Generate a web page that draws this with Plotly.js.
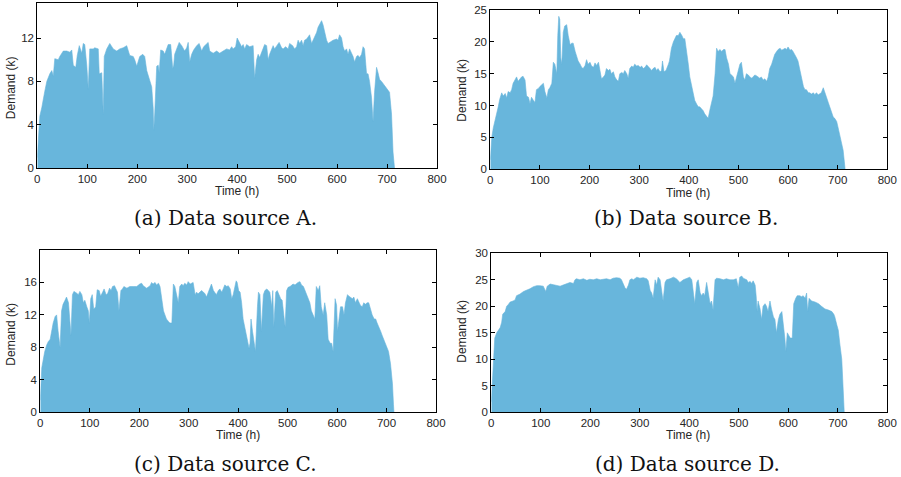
<!DOCTYPE html>
<html>
<head>
<meta charset="utf-8">
<script src="https://cdn.plot.ly/plotly-3.0.1.min.js"></script>
<style>html,body{margin:0;padding:0;background:#fff;}#chart{width:901px;height:477px;}</style>
</head>
<body>
<div id="chart"></div>
<script>
// ---- Data source A ----
const hoursA = [0,2,5,9,12,15,19,22,25,29,32,35,42,45,52,59,65,69,72,77,80,84,89,92,95,99,102,105,112,115,122,124,129,132,134,139,145,152,159,165,172,179,185,192,195,199,202,205,211,215,219,222,225,229,232,233,235,239,242,244,247,252,255,259,262,267,271,273,275,279,284,289,292,295,299,302,305,309,313,319,324,329,333,339,342,345,352,359,365,372,379,385,389,392,397,400,404,409,412,415,419,425,432,435,439,442,445,449,452,455,459,462,465,469,472,475,479,484,489,492,497,502,505,511,515,519,522,525,529,532,535,539,542,545,549,552,555,559,562,565,569,572,575,579,582,585,592,599,602,605,609,612,615,619,622,625,629,632,635,639,642,645,649,652,655,659,662,665,669,672,675,679,682,685,689,692,695,699,702,705,709,712,715];
const demandA = [1,3,4.8,5.6,6.5,7.1,8,8.4,8.7,9.0,8.5,10.1,10,10.3,10.8,10.8,10.7,10.9,9.5,9.3,10.4,11.3,10.6,11.5,11.4,9.5,7.3,11.0,11.0,11.1,11.0,8.7,8.8,5.0,10.3,11.0,11.5,11.0,10.8,11.0,11.1,11.3,10.4,10.3,10.0,9.4,10.0,10.3,10.5,10.3,9.0,8.5,8.1,7.5,5.5,3.5,5,9.4,9.5,8.8,10.9,10.8,10.5,11.0,11.4,11.4,9.2,9.5,10.5,11.0,11.6,11.3,11.0,10.8,11.1,11.6,9.8,10.5,10.9,11.3,11.5,10.8,11.2,11.5,11.6,10.8,10.6,10.8,10.6,10.8,11.0,10.9,11.2,11.0,11.2,12.0,11.7,11.2,11.4,11.0,11.4,11.2,11.3,8.3,10.0,10.5,10.2,10.7,11.0,11.4,11.3,10.0,10.5,11.0,11.3,11.0,11.3,11.6,11.1,11.0,11.2,11.0,11.5,11.3,11.0,11.2,11.8,11.5,11.8,11.3,11.8,11.9,12.1,12.3,11.5,11.8,12.0,12.5,13.0,13.3,13.6,13.2,12.5,11.8,11.5,11.6,11.8,11.9,11.8,12.3,12.0,11.2,10.8,11.0,10.5,11.0,10.6,10.3,9.8,10.3,10.4,10.2,10.5,11.2,11.0,8.7,8.7,8.0,6.5,4.3,7.0,9.3,8.8,8.2,8.0,7.8,7.7,7.4,7.2,7.0,5.0,1.5,0];

// ---- Data source B ----
const hoursB = [0,3,6,9,13,16,19,23,26,30,33,36,40,43,46,50,53,56,60,63,66,70,73,77,80,83,87,90,93,97,100,103,107,110,114,117,120,124,127,130,134,136,138,140,142,144,147,150,154,157,161,164,167,171,174,177,181,184,187,191,194,197,201,204,208,211,214,218,221,224,228,231,234,238,241,244,248,251,255,258,261,265,268,271,275,278,281,285,288,291,295,298,302,305,308,312,315,318,322,325,328,332,335,338,342,345,347,350,354,359,361,363,365,369,372,375,379,382,386,389,392,396,399,402,406,409,412,416,419,422,426,429,432,436,439,443,446,449,453,456,459,463,466,470,473,476,480,483,486,490,493,496,500,503,506,510,513,516,520,523,527,530,533,536,540,543,546,550,553,557,560,563,567,570,573,577,580,584,587,590,594,597,600,604,607,610,614,617,620,624,627,631,634,637,641,644,647,651,654,657,661,664,667,671,674,678,681,684,688,691,694,698,701,704,708,711,713,715];
const demandB = [1.5,5,6.5,7.4,8.5,9.8,11.0,12.0,11.5,11.9,11.2,12.2,12.0,12.5,13.5,14.0,14.5,13.8,14.2,14.5,14.6,14.0,11.5,11.3,10.3,11.3,10.8,10.5,12.5,12.7,13.0,13.2,13.5,12.2,11.2,12.5,12.8,13.5,16.8,16.5,15.0,21.0,24.0,23.5,17.5,16.5,21.5,22.5,22.7,21.0,19.5,19.8,19.8,18.5,17.5,17.0,16.5,16.0,15.8,16.3,17.2,16.5,16.8,16.2,16.0,16.7,16.3,16.8,15.5,14.2,14.5,14.8,15.8,15.5,15.7,15.0,15.3,14.5,14.0,13.8,15.0,15.2,15.0,15.5,15.0,14.3,15.8,16.2,16.0,16.5,16.2,16.3,16.0,16.2,15.8,16.0,16.4,16.2,15.8,15.5,15.8,16.0,15.5,15.8,15.3,15.5,17.0,15.3,15.5,16.5,17.0,18.0,19.0,20.0,20.5,21.0,21.0,21.5,21.0,20.5,20.5,18.5,16.5,14.5,12.8,11.5,10.8,10.2,9.8,9.8,9.5,9.2,8.7,8.2,8.0,9.5,10.8,11.5,15.0,19.0,18.5,18.8,18.5,18.8,18.8,17.5,16.5,15.0,14.8,14.5,13.5,14.5,15.5,16.5,16.8,14.5,14.0,15.0,14.8,14.5,14.3,14.5,14.8,14.7,14.5,14.3,14.5,14.0,14.2,13.8,14.5,15.8,16.5,17.5,18.0,18.5,18.8,19.0,18.7,18.8,19.0,18.8,19.2,18.7,18.8,18.5,18.0,17.5,17.0,15.5,14.5,13.0,12.5,12.5,12.0,12.0,11.8,12.0,11.7,12.0,11.7,11.8,12.0,12.8,12.0,11.0,10.5,9.8,9.0,8.2,8.0,7.5,6.5,5.5,4.5,3.0,1.5,0];

// ---- Data source C ----
const hoursC = [0,3,6,9,13,16,20,23,26,30,33,36,40,43,46,50,53,57,60,62,65,68,73,77,80,84,87,90,94,97,99,102,105,108,112,115,119,122,126,129,133,136,140,143,146,150,153,156,159,163,166,169,175,181,188,195,201,205,208,215,222,225,228,232,235,239,242,245,249,252,255,259,262,266,269,272,276,279,282,286,289,292,296,299,303,306,309,313,316,319,323,326,330,333,336,340,343,346,350,353,356,360,363,367,370,373,377,380,384,387,390,394,396,398,401,404,407,410,414,417,419,422,424,426,429,432,435,439,441,444,447,451,454,458,461,464,468,470,472,476,479,482,486,489,493,495,498,501,505,508,511,515,518,521,525,528,532,535,538,542,545,548,552,555,558,562,565,568,572,575,579,582,586,589,592,596,599,601,605,607,611,614,617,621,624,627,631,634,637,641,644,647,651,654,657,661,664,668,671,675,678,681,685,688,691,694,698,701,704,708,712,714,715];
const demandC = [1.5,5.5,6.5,7.5,8.3,8.7,9.0,10.0,11.0,11.8,12.0,10.0,8.0,12.5,13.3,13.8,14.2,13.5,11.5,9.5,14.5,14.9,14.7,14.5,14.9,14.5,13.5,13.8,13.0,12.5,11.0,14.0,14.5,12.7,13.0,15.1,15.0,14.3,14.8,15.2,14.5,14.6,15.3,15.0,15.5,15.6,15.2,14.8,12.5,15.0,15.2,15.5,15.3,15.5,15.5,15.5,15.8,15.9,15.6,15.3,15.6,16.0,15.8,16.0,15.7,15.9,15.5,14.0,12.5,12.0,11.5,11.2,11.0,11.0,15.8,15.5,14.5,13.5,15.5,15.8,15.6,15.9,15.7,16.1,15.8,15.9,16.0,14.5,14.8,14.6,14.8,15.0,14.8,14.6,14.2,14.8,15.2,15.8,15.0,14.8,14.5,15.0,15.2,14.8,15.3,15.7,15.5,15.6,15.2,14.0,14.5,15.8,16.2,16.0,15.0,14.8,13.5,11.5,10.3,9.5,8.8,7.9,8.5,11.5,10.0,9.0,7.5,13.0,14.8,14.5,10.0,14.5,15.0,15.2,15.0,14.8,13.0,15.0,10.5,14.8,15.0,14.5,14.0,13.8,12.0,10.5,15.0,15.4,15.5,15.6,15.8,15.7,15.9,16.0,16.1,15.7,15.5,15.0,14.5,13.8,13.5,12.5,12.0,11.5,15.5,15.0,15.6,13.0,12.0,13.5,12.0,9.0,8.5,8.5,7.5,14.0,13.2,10.0,12.0,13.0,13.0,12.0,13.5,14.5,14.3,14.2,14.0,14.2,13.5,14.0,13.5,13.2,13.0,13.5,13.3,13.5,13.5,12.5,12.0,11.5,11.5,11.0,10.5,10.0,9.5,9.0,8.5,8.0,7.5,6.0,3.5,1.0,0];

// ---- Data source D ----
const hoursD = [0,2,4,6,7,11,14,18,21,23,28,31,34,38,44,48,51,58,65,71,78,85,92,98,105,110,113,119,125,132,139,145,152,159,166,169,172,179,186,193,199,206,213,220,226,233,240,246,253,260,263,267,270,273,277,280,284,287,294,300,307,314,317,321,324,327,331,334,337,341,344,347,351,354,361,368,374,381,388,395,401,405,408,411,415,418,422,425,428,431,435,438,442,445,448,452,455,462,469,475,482,489,495,499,502,506,509,516,519,523,526,529,533,535,537,539,543,546,549,553,556,559,563,566,570,573,576,580,583,587,590,593,595,598,601,604,608,611,615,618,623,627,630,634,637,639,642,647,654,661,667,674,681,688,692,694,698,701,704,708,710,712,713];
const demandD = [2,6,10,12,14,15,15.5,16,17,18.5,19.0,20.0,20.3,20.8,21.0,21.2,22.0,22.3,22.8,23.0,23.3,23.7,23.9,23.9,23.8,22.8,23.8,24.2,24.1,24.0,23.8,24.0,24.2,24.5,24.3,25.0,25.2,25.0,25.2,24.9,25.1,25.0,25.2,25.0,25.1,25.2,25.0,25.3,25.4,25.3,25.0,24.0,23.5,23.2,24.0,25.0,25.2,25.0,25.5,25.3,25.4,25.2,24.8,23.0,22.5,21.5,25.0,24.0,25.5,25.0,23.0,21.0,24.5,25.0,25.2,25.5,25.2,24.5,25.0,25.3,25.5,25.0,23.0,20.5,24.5,25.0,22.5,22.0,22.5,22.0,24.5,22.5,20.5,21.0,19.3,25.0,25.3,25.2,25.0,25.2,25.0,25.0,25.2,23.5,25.5,25.7,25.3,25.0,24.5,24.7,24.3,24.8,24.0,22.0,19.0,21.0,19.5,17.5,20.0,20.5,20.0,19.0,21.0,19.5,18.0,17.5,15.0,17.5,18.5,19.0,17.0,14.0,11.5,15.0,14.5,14.0,14.0,20.5,21.5,22.0,22.0,21.8,22.0,21.5,22.5,19.0,21.5,21.0,20.8,20.5,20.0,19.5,19.3,19.0,18.5,18.0,16.5,15.5,13.0,10.0,6.0,2.0,0];

const xTicks = [0,100,200,300,400,500,600,700,800];
const yTicksA = [0,4,8,12];
const yTicksB = [0,5,10,15,20,25];
const yTicksC = [0,4,8,12,16];
const yTicksD = [0,5,10,15,20,25,30];
const captions = ["(a) Data source A.", "(b) Data source B.", "(c) Data source C.", "(d) Data source D."];
const xTitle = "Time (h)";
const yTitle = "Demand (k)";

const W = 901, H = 477;
const X = p => p / W;
const Y = p => 1 - p / H;
const blue = '#68B6DC';

function trace(h, d, i) {
  const s = i === 1 ? '' : String(i);
  return {x: h, y: d, xaxis: 'x' + s, yaxis: 'y' + s, type: 'scatter', mode: 'lines',
    fill: 'tozeroy', fillcolor: blue, line: {color: blue, width: 0.6}, hoverinfo: 'skip'};
}

const tickFont = {family: 'Liberation Sans, Arial, sans-serif', size: 11.5, color: '#262626'};
function xa(dom, anchor) {
  return {domain: dom, anchor: anchor, range: [0, 800], tickvals: xTicks, ticks: 'inside', ticklen: 4,
    tickcolor: '#000', showline: true, linecolor: '#000', linewidth: 1, mirror: 'ticks',
    showgrid: false, zeroline: false, tickfont: tickFont, fixedrange: true};
}
function ya(dom, anchor, rng, tv) {
  return {domain: dom, anchor: anchor, range: rng, tickvals: tv, ticks: 'inside', ticklen: 4,
    tickcolor: '#000', showline: true, linecolor: '#000', linewidth: 1, mirror: 'ticks',
    showgrid: false, zeroline: false, tickfont: tickFont, fixedrange: true};
}

const panels = [
  {x0: 37.3, x1: 437, y0: 3.3, y1: 168.3},
  {x0: 490.3, x1: 887.3, y0: 10, y1: 169.3},
  {x0: 40.3, x1: 436, y0: 250, y1: 412.3},
  {x0: 491.3, x1: 887.3, y0: 253.3, y1: 412.3}
];
const dx = p => [X(p.x0), X(p.x1)];
const dy = p => [Y(p.y1), Y(p.y0)];

const titleFont = {family: 'Liberation Sans, Arial, sans-serif', size: 12, color: '#262626'};
const capFont = {family: 'DejaVu Serif, serif', size: 20, color: '#111'};
const ann = [];
const ytPos = [[10.7, 87.5], [461.7, 90], [10.7, 334], [461.7, 331]];
const xtPos = [[237, 191.5], [688, 193], [238, 435], [688, 435]];
const capPos = [[225, 218], [686, 218], [225, 463.5], [687, 463.5]];
for (let i = 0; i < 4; i++) {
  ann.push({xref: 'paper', yref: 'paper', x: X(ytPos[i][0]), y: Y(ytPos[i][1]), text: yTitle, textangle: -90,
    showarrow: false, font: titleFont, xanchor: 'center', yanchor: 'middle'});
  ann.push({xref: 'paper', yref: 'paper', x: X(xtPos[i][0]), y: Y(xtPos[i][1]), text: xTitle,
    showarrow: false, font: titleFont, xanchor: 'center', yanchor: 'middle'});
  ann.push({xref: 'paper', yref: 'paper', x: X(capPos[i][0]), y: Y(capPos[i][1]), text: captions[i],
    showarrow: false, font: capFont, xanchor: 'center', yanchor: 'middle'});
}

const data = [trace(hoursA, demandA, 1), trace(hoursB, demandB, 2), trace(hoursC, demandC, 3), trace(hoursD, demandD, 4)];
const layout = {
  width: W, height: H, margin: {l: 0, r: 0, t: 0, b: 0}, showlegend: false,
  paper_bgcolor: '#fff', plot_bgcolor: '#fff',
  xaxis: xa(dx(panels[0]), 'y'), yaxis: ya(dy(panels[0]), 'x', [0, 15.2], yTicksA),
  xaxis2: xa(dx(panels[1]), 'y2'), yaxis2: ya(dy(panels[1]), 'x2', [0, 25], yTicksB),
  xaxis3: xa(dx(panels[2]), 'y3'), yaxis3: ya(dy(panels[2]), 'x3', [0, 20], yTicksC),
  xaxis4: xa(dx(panels[3]), 'y4'), yaxis4: ya(dy(panels[3]), 'x4', [0, 30], yTicksD),
  annotations: ann
};
Plotly.newPlot('chart', data, layout, {staticPlot: true, displayModeBar: false});
</script>
</body>
</html>
